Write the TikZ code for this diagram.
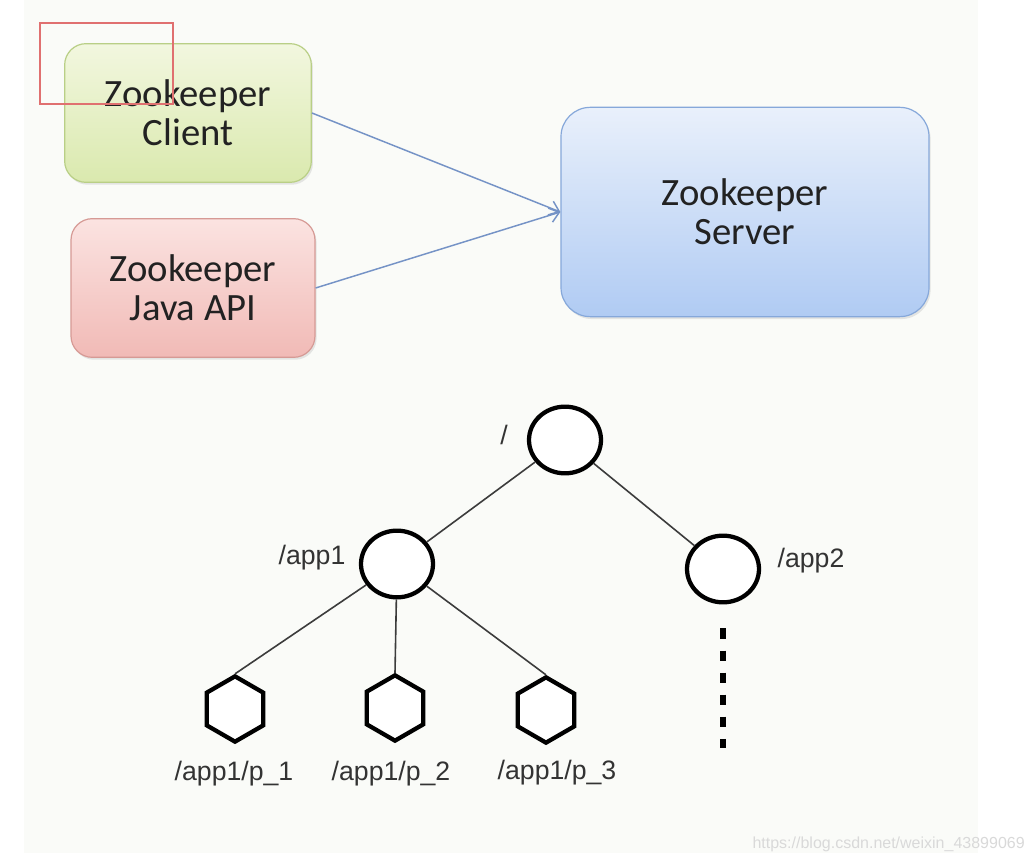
\documentclass[tikz,border=0pt]{standalone}
\usepackage{fontspec}
\setmainfont{Liberation Sans}
\newfontfamily\boxfont{Carlito}
\usepackage{xcolor}
\definecolor{zkbg}{HTML}{FAFBF8}
\definecolor{zkgreentop}{HTML}{F2F7DF}
\definecolor{zkgreenbot}{HTML}{DAE9AE}
\definecolor{zkgreen}{HTML}{B9CF86}
\definecolor{zkpinktop}{HTML}{FBE3E1}
\definecolor{zkpinkbot}{HTML}{F1BAB6}
\definecolor{zkpink}{HTML}{D69A95}
\definecolor{zkbluetop}{HTML}{E9F0FB}
\definecolor{zkbluebot}{HTML}{B0CBF3}
\definecolor{zkblue}{HTML}{86A8DA}
\definecolor{zkarrow}{HTML}{7593C6}
\definecolor{zktext}{HTML}{222222}
\definecolor{zklabel}{HTML}{333333}
\definecolor{zkedge}{HTML}{3C3C3C}
\definecolor{zkred}{HTML}{E07070}
\definecolor{zkmark}{HTML}{D9D9D9}
\usepackage{tikz}
\usetikzlibrary{arrows.meta, positioning, shapes.geometric, shadows}

\tikzset{
  zkbox/.style={rounded corners=16pt, line width=0.9pt, align=center, inner sep=0pt,
    text=zktext, font=\boxfont\fontsize{29}{29}\selectfont,
    drop shadow={opacity=0.18, shadow xshift=1.2pt, shadow yshift=-1.8pt}},
  znode/.style={ellipse, draw=black, line width=3.2pt, minimum width=54pt,
    minimum height=50pt, inner sep=0pt, fill=white},
  zleaf/.style={regular polygon, regular polygon sides=6, shape border rotate=90,
    draw=black, line width=3.2pt, minimum size=49pt, inner sep=0pt, fill=white},
  zlabel/.style={font=\fontsize{20}{24}\selectfont, text=zklabel, inner sep=0pt, anchor=base},
  zedge/.style={draw=zkedge, line width=1.2pt},
  zarrow/.style={draw=zkarrow, line width=1.1pt, -{Straight Barb[length=7pt, width=11pt]}},
  zdots/.style={draw=black, line width=4.5pt, dash pattern=on 8pt off 8.55pt},
}

\begin{document}
\begin{tikzpicture}[x=0.75pt, y=-0.75pt]
      % page and slide area
      \useasboundingbox (0,0) rectangle (1032,862);
      \fill[white] (0,0) rectangle (1032,862);
      \fill[zkbg] (24,0) rectangle (978,853);

      % Client and API boxes
      \node[zkbox, draw=zkgreen, top color=zkgreentop, bottom color=zkgreenbot,
            minimum width=185pt, minimum height=104pt] (client) at (188,113) {Zookeeper\\Client};
      \node[zkbox, draw=zkpink, top color=zkpinktop, bottom color=zkpinkbot,
            minimum width=183pt, minimum height=104pt] (api) at (193,288) {Zookeeper\\Java API};

      % Server box
      \node[zkbox, rounded corners=22pt, draw=zkblue, top color=zkbluetop, bottom color=zkbluebot,
            minimum width=276pt, minimum height=157pt] (server) at (745,212) {Zookeeper\\Server};

      \draw[zarrow] (client.east) -- (server.west);
      \draw[zarrow] (api.east) -- (server.west);

      % selection frame
      \draw[zkred, line width=1.2pt] (40,23) rectangle (173,104);

      % Znode tree
      \node[znode] (root) at (565,440) {};
      \node[znode] (app1) at (397,564) {};
      \node[znode] (app2) at (723,569) {};
      \node[zleaf] (p1) at (235,709) {};
      \node[zleaf] (p2) at (395,708) {};
      \node[zleaf] (p3) at (546,710) {};
      \coordinate (more) at (723,748);

      \draw[zedge] (root) -- (app1);
      \draw[zedge] (root) -- (app2);
      \draw[zedge] (app1) -- (p1.north);
      \draw[zedge] (app1) -- (p2.north);
      \draw[zedge] (app1) -- (p3.north);
      \draw[zdots, shorten <=18pt] (app2.south) -- (more);

      \node[zlabel] (lroot) at (504,445) {/};
      \node[zlabel] (lapp1) at (312,565) {/app1};
      \node[zlabel] (lapp2) at (811,568) {/app2};
      \node[zlabel] (lp1) at (234,780) {/app1/p\_1};
      \node[zlabel] (lp2) at (391,780) {/app1/p\_2};
      \node[zlabel] (lp3) at (557,779) {/app1/p\_3};

      % watermark
      \node[font=\fontsize{12}{14}\selectfont, text=zkmark, inner sep=0pt, anchor=base east]
           (mark) at (1025,848) {https://blog.csdn.net/weixin\_43899069};
    \end{tikzpicture}
\end{document}
